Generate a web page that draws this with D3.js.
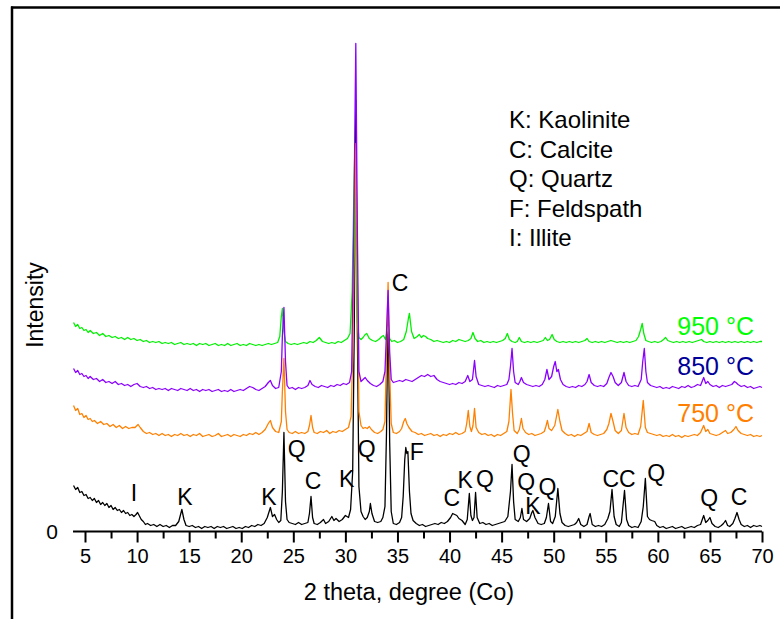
<!DOCTYPE html>
<html><head><meta charset="utf-8">
<script src="https://cdn.jsdelivr.net/npm/d3@7"></script>
<style>
html,body{margin:0;padding:0;background:#fff;}
svg{display:block;font-family:"Liberation Sans",Arial,sans-serif;}
</style></head>
<body>
<svg id="chart" width="780" height="619"></svg>
<script>
// Intensity values as displayed (patterns are stacked with vertical offsets, as in the original figure)
const raw = [[3.9,46],[4.1,42],[4.3,44],[4.5,39],[4.7,40],[4.9,36],[5.1,37],[5.3,33],[5.5,34],[5.7,31],[5.9,33],[6.1,29],[6.3,31],[6.5,27],[6.7,29],[6.9,26],[7.1,28],[7.3,24],[7.5,26],[7.7,22],[7.9,24],[8.1,21],[8.3,22],[8.5,19],[8.7,21],[8.9,18],[9.1,19],[9.3,16],[9.5,17],[9.7,15],[9.9,17],[10.05,19],[10.2,16],[10.4,12],[10.6,10],[10.8,7],[11.0,8],[11.3,6],[11.6,7],[11.9,5],[12.2,7],[12.5,5],[12.8,6],[13.1,4],[13.4,6],[13.7,6],[14.0,10],[14.3,22],[14.5,12],[14.7,6],[15.0,5],[15.3,6],[15.6,4],[15.9,5],[16.2,3],[16.5,5],[16.8,4],[17.1,5],[17.4,3],[17.7,5],[18.0,4],[18.3,5],[18.6,3],[18.9,4],[19.2,5],[19.5,3],[19.8,4],[20.1,3],[20.4,5],[20.7,4],[21.0,6],[21.3,5],[21.6,7],[21.9,6],[22.2,8],[22.5,14],[22.8,24],[23.0,15],[23.2,17],[23.4,12],[23.6,9],[23.8,11],[23.95,40],[24.1,99],[24.25,30],[24.4,12],[24.6,9],[24.9,8],[25.2,7],[25.5,9],[25.8,7],[26.1,8],[26.4,9],[26.55,18],[26.7,35],[26.85,14],[27.0,8],[27.3,7],[27.6,9],[27.9,12],[28.1,8],[28.4,10],[28.7,15],[28.9,11],[29.1,13],[29.4,10],[29.7,12],[30.0,16],[30.3,14],[30.5,22],[30.7,60],[30.85,200],[31.0,431],[31.15,200],[31.3,45],[31.5,20],[31.7,15],[31.9,12],[32.1,14],[32.3,20],[32.4,28],[32.55,18],[32.8,10],[33.1,9],[33.4,10],[33.6,14],[33.8,25],[33.95,100],[34.1,235],[34.25,90],[34.4,20],[34.6,8],[34.9,7],[35.2,9],[35.4,14],[35.55,35],[35.7,72],[35.8,84],[35.9,78],[36.0,80],[36.15,40],[36.3,18],[36.5,11],[36.8,8],[37.1,6],[37.4,7],[37.7,5],[38.0,6],[38.3,7],[38.6,8],[38.9,7],[39.2,9],[39.5,8],[39.8,10],[40.1,14],[40.3,18],[40.5,17],[40.7,16],[40.9,13],[41.2,11],[41.5,7],[41.7,12],[41.9,38],[42.05,16],[42.2,11],[42.35,14],[42.5,39],[42.65,14],[42.9,8],[43.2,9],[43.5,7],[43.8,8],[44.1,6],[44.4,7],[44.7,8],[45.0,9],[45.3,10],[45.6,15],[45.85,40],[46.0,67],[46.15,30],[46.3,12],[46.6,10],[46.8,14],[46.95,23],[47.1,12],[47.4,10],[47.7,13],[47.9,19],[48.0,21],[48.2,14],[48.5,8],[48.8,7],[49.1,8],[49.3,14],[49.5,28],[49.7,10],[49.9,8],[50.15,15],[50.4,43],[50.6,18],[50.8,9],[51.1,6],[51.4,5],[51.7,6],[52.0,7],[52.2,9],[52.4,13],[52.6,7],[52.9,5],[53.2,7],[53.4,15],[53.5,18],[53.7,7],[54.0,5],[54.3,6],[54.6,5],[54.9,7],[55.2,13],[55.4,20],[55.6,42],[55.8,15],[56.0,7],[56.3,5],[56.5,9],[56.8,41],[57.0,12],[57.2,6],[57.5,4],[57.8,5],[58.1,4],[58.4,10],[58.6,25],[58.8,53],[59.0,15],[59.2,12],[59.4,11],[59.7,10],[59.9,6],[60.2,4],[60.5,5],[60.8,3],[61.1,4],[61.4,5],[61.7,3],[62.0,4],[62.3,5],[62.6,3],[62.9,4],[63.2,5],[63.5,4],[63.8,6],[64.1,7],[64.4,16],[64.6,9],[64.8,11],[65.0,14],[65.2,8],[65.5,5],[65.8,4],[66.1,6],[66.3,8],[66.5,11],[66.7,6],[66.9,5],[67.2,8],[67.4,13],[67.6,19],[67.8,12],[68.0,7],[68.3,5],[68.6,6],[68.9,4],[69.2,6],[69.5,5],[69.8,6],[70.0,5]];

const t750 = [[3.9,126],[4.1,121],[4.3,123],[4.5,117],[4.7,118],[4.9,114],[5.1,116],[5.3,112],[5.5,113],[5.7,110],[5.9,111],[6.2,108],[6.5,110],[6.8,107],[7.1,108],[7.4,105],[7.7,107],[8.0,104],[8.3,106],[8.6,103],[8.9,105],[9.2,103],[9.5,104],[9.8,104],[10.1,107],[10.3,104],[10.6,100],[10.9,98],[11.2,99],[11.5,97],[11.8,98],[12.1,96],[12.4,98],[12.7,96],[13.0,97],[13.3,95],[13.6,97],[13.9,96],[14.2,98],[14.5,96],[14.8,97],[15.1,95],[15.4,97],[15.7,96],[16.0,98],[16.3,95],[16.6,96],[16.9,97],[17.2,95],[17.5,96],[17.8,98],[18.1,95],[18.4,96],[18.7,97],[19.0,95],[19.3,97],[19.6,96],[19.9,95],[20.2,97],[20.5,96],[20.8,98],[21.1,97],[21.4,99],[21.7,97],[22.0,99],[22.3,102],[22.6,108],[22.8,111],[23.0,104],[23.3,100],[23.6,99],[23.85,110],[23.95,140],[24.1,173],[24.25,120],[24.4,102],[24.6,99],[24.9,98],[25.2,100],[25.5,98],[25.8,99],[26.1,98],[26.4,100],[26.55,106],[26.7,116],[26.85,104],[27.0,99],[27.3,98],[27.6,100],[27.9,99],[28.2,101],[28.5,98],[28.8,100],[29.1,99],[29.4,101],[29.7,100],[30.0,102],[30.3,104],[30.55,115],[30.75,200],[30.9,330],[31.0,388],[31.15,250],[31.3,120],[31.5,106],[31.7,103],[31.9,104],[32.1,103],[32.3,105],[32.5,102],[32.8,99],[33.1,98],[33.4,100],[33.6,102],[33.8,110],[33.95,180],[34.1,249],[34.25,160],[34.4,108],[34.6,99],[34.9,98],[35.2,100],[35.4,103],[35.6,110],[35.75,113],[35.9,108],[36.1,104],[36.4,100],[36.7,99],[37.0,97],[37.3,98],[37.6,96],[37.9,97],[38.2,98],[38.5,96],[38.8,97],[39.1,95],[39.4,97],[39.7,96],[40.0,98],[40.3,97],[40.6,99],[40.9,97],[41.2,98],[41.5,100],[41.65,108],[41.8,121],[41.95,105],[42.1,100],[42.25,106],[42.4,123],[42.55,104],[42.8,99],[43.1,97],[43.4,98],[43.7,96],[44.0,97],[44.3,95],[44.6,97],[44.9,96],[45.2,98],[45.5,100],[45.7,110],[45.9,142],[46.05,118],[46.2,101],[46.5,98],[46.7,102],[46.9,113],[47.05,103],[47.3,99],[47.6,97],[47.9,98],[48.2,96],[48.5,97],[48.8,98],[49.1,100],[49.25,105],[49.4,111],[49.55,103],[49.8,101],[50.1,106],[50.4,122],[50.6,110],[50.8,101],[51.1,98],[51.4,96],[51.7,97],[52.0,95],[52.3,97],[52.6,96],[52.9,98],[53.2,100],[53.4,108],[53.6,99],[53.9,97],[54.2,96],[54.5,97],[54.8,98],[55.1,102],[55.3,108],[55.5,118],[55.7,110],[55.9,101],[56.2,98],[56.5,101],[56.75,118],[56.95,104],[57.2,99],[57.5,97],[57.8,98],[58.1,97],[58.35,105],[58.6,131],[58.8,104],[59.0,99],[59.3,98],[59.6,97],[59.9,96],[60.2,97],[60.5,95],[60.8,96],[61.1,95],[61.4,97],[61.7,95],[62.0,96],[62.3,94],[62.6,96],[62.9,95],[63.2,96],[63.5,97],[63.8,96],[64.1,99],[64.4,106],[64.6,100],[64.8,102],[65.0,98],[65.3,97],[65.6,96],[65.9,97],[66.2,99],[66.5,101],[66.7,98],[67.0,99],[67.3,102],[67.5,105],[67.7,101],[68.0,98],[68.3,97],[68.6,96],[68.9,97],[69.2,95],[69.5,96],[69.8,95],[70.0,96]];

const t850 = [[3.9,163],[4.1,159],[4.3,161],[4.5,157],[4.7,158],[4.9,155],[5.1,156],[5.3,153],[5.5,155],[5.8,152],[6.1,153],[6.4,150],[6.7,152],[7.0,149],[7.3,150],[7.6,148],[7.9,150],[8.2,147],[8.5,148],[8.8,146],[9.1,147],[9.4,145],[9.7,147],[10.0,148],[10.3,145],[10.6,144],[10.9,145],[11.2,143],[11.5,144],[11.8,142],[12.1,143],[12.4,142],[12.7,143],[13.0,141],[13.3,143],[13.6,142],[13.9,141],[14.2,143],[14.5,142],[14.8,141],[15.1,143],[15.4,141],[15.7,142],[16.0,140],[16.3,142],[16.6,141],[16.9,142],[17.2,140],[17.5,141],[17.8,142],[18.1,140],[18.4,141],[18.7,140],[19.0,142],[19.3,140],[19.6,141],[19.9,142],[20.2,141],[20.5,143],[20.8,145],[21.1,144],[21.4,142],[21.7,141],[22.0,143],[22.3,145],[22.6,149],[22.8,151],[23.0,146],[23.3,143],[23.6,144],[23.85,160],[23.95,195],[24.1,224],[24.25,170],[24.4,146],[24.6,143],[24.9,144],[25.2,142],[25.5,144],[25.8,143],[26.1,144],[26.4,146],[26.6,151],[26.8,147],[27.1,145],[27.4,144],[27.7,146],[28.0,145],[28.3,144],[28.6,146],[28.9,145],[29.2,147],[29.5,146],[29.8,148],[30.1,147],[30.4,149],[30.6,160],[30.8,300],[31.0,488],[31.15,300],[31.3,160],[31.5,150],[31.7,152],[31.9,154],[32.1,151],[32.4,148],[32.7,146],[33.0,145],[33.3,147],[33.6,150],[33.8,160],[33.95,200],[34.1,241],[34.25,180],[34.4,152],[34.6,149],[34.9,150],[35.2,151],[35.5,150],[35.8,152],[36.1,151],[36.4,150],[36.7,152],[37.0,154],[37.3,156],[37.6,155],[37.9,157],[38.2,155],[38.5,156],[38.8,152],[39.1,150],[39.4,149],[39.7,148],[40.0,147],[40.3,148],[40.6,147],[40.9,149],[41.2,148],[41.5,150],[41.75,156],[41.95,150],[42.2,152],[42.4,171],[42.55,155],[42.8,147],[43.1,146],[43.4,145],[43.7,146],[44.0,145],[44.3,144],[44.6,146],[44.9,145],[45.2,146],[45.5,147],[45.7,152],[45.85,165],[46.0,183],[46.15,160],[46.3,149],[46.6,147],[46.75,150],[46.9,154],[47.1,149],[47.4,147],[47.7,146],[48.0,145],[48.3,146],[48.6,145],[48.9,147],[49.15,152],[49.35,162],[49.55,152],[49.8,155],[50.0,165],[50.15,170],[50.3,160],[50.45,162],[50.65,152],[50.9,147],[51.2,145],[51.5,144],[51.8,145],[52.1,144],[52.4,146],[52.7,145],[53.0,147],[53.2,150],[53.4,157],[53.6,149],[53.9,146],[54.2,145],[54.5,146],[54.8,145],[55.1,148],[55.3,154],[55.5,159],[55.7,155],[55.9,149],[56.2,146],[56.5,149],[56.75,159],[56.95,150],[57.2,146],[57.5,145],[57.8,146],[58.1,145],[58.4,152],[58.55,170],[58.7,183],[58.85,160],[59.0,149],[59.3,146],[59.6,145],[59.9,144],[60.2,145],[60.5,143],[60.8,144],[61.1,143],[61.4,145],[61.7,144],[62.0,143],[62.3,145],[62.6,144],[62.9,146],[63.2,144],[63.5,145],[63.8,147],[64.1,146],[64.4,154],[64.6,148],[64.8,150],[65.0,147],[65.3,145],[65.6,146],[65.9,144],[66.2,146],[66.5,145],[66.8,146],[67.1,147],[67.35,150],[67.5,149],[67.7,147],[68.0,145],[68.3,146],[68.6,144],[68.9,145],[69.2,143],[69.5,144],[69.8,145],[70.0,144]];

const t950 = [[3.9,209],[4.1,205],[4.3,207],[4.5,203],[4.7,204],[4.9,201],[5.1,202],[5.3,199],[5.5,201],[5.8,198],[6.1,199],[6.4,196],[6.7,198],[7.0,195],[7.3,196],[7.6,194],[7.9,195],[8.2,193],[8.5,194],[8.8,192],[9.1,194],[9.4,192],[9.7,193],[10.0,191],[10.3,192],[10.6,190],[10.9,191],[11.2,189],[11.5,190],[11.8,189],[12.1,190],[12.4,188],[12.7,189],[13.0,188],[13.3,189],[13.6,187],[13.9,188],[14.2,189],[14.5,187],[14.8,188],[15.1,187],[15.4,188],[15.7,186],[16.0,188],[16.3,187],[16.6,188],[16.9,186],[17.2,187],[17.5,188],[17.8,186],[18.1,187],[18.4,186],[18.7,188],[19.0,186],[19.3,187],[19.6,188],[19.9,186],[20.2,187],[20.5,186],[20.8,188],[21.1,187],[21.4,186],[21.7,187],[22.0,186],[22.3,187],[22.6,188],[22.9,187],[23.2,188],[23.5,189],[23.7,195],[23.85,215],[23.95,223],[24.1,200],[24.25,190],[24.5,188],[24.8,187],[25.1,188],[25.4,187],[25.7,188],[26.0,189],[26.3,188],[26.6,190],[26.9,189],[27.2,191],[27.5,194],[27.8,190],[28.1,189],[28.4,188],[28.7,189],[29.0,188],[29.3,190],[29.6,189],[29.9,191],[30.2,193],[30.45,198],[30.65,240],[30.8,330],[30.9,378],[31.0,300],[31.15,210],[31.3,194],[31.5,192],[31.7,194],[31.9,197],[32.05,198],[32.3,193],[32.6,191],[32.9,190],[33.2,192],[33.5,195],[33.65,196],[33.85,192],[34.0,200],[34.1,205],[34.25,193],[34.45,190],[34.7,191],[35.0,189],[35.3,190],[35.6,192],[35.85,200],[36.05,213],[36.15,218],[36.35,200],[36.6,193],[36.9,195],[37.1,197],[37.3,194],[37.5,196],[37.7,195],[37.9,193],[38.2,192],[38.5,190],[38.8,191],[39.1,190],[39.4,189],[39.7,190],[40.0,189],[40.3,191],[40.6,190],[40.9,192],[41.2,191],[41.5,190],[41.8,191],[42.05,193],[42.25,199],[42.45,193],[42.7,190],[43.0,191],[43.3,189],[43.6,190],[43.9,189],[44.2,190],[44.5,189],[44.8,190],[45.1,191],[45.35,193],[45.55,198],[45.75,192],[46.0,190],[46.3,189],[46.5,190],[46.7,194],[46.9,190],[47.2,189],[47.5,190],[47.8,189],[48.1,190],[48.4,189],[48.7,190],[49.0,191],[49.2,194],[49.4,191],[49.6,192],[49.85,197],[50.05,192],[50.3,190],[50.6,189],[50.9,190],[51.2,189],[51.5,190],[51.8,189],[52.1,190],[52.4,189],[52.7,190],[53.0,191],[53.2,193],[53.4,190],[53.7,189],[54.0,190],[54.3,189],[54.6,190],[54.9,189],[55.2,190],[55.5,191],[55.8,190],[56.1,189],[56.4,190],[56.7,189],[57.0,190],[57.3,189],[57.6,190],[57.9,191],[58.15,195],[58.35,202],[58.5,208],[58.65,198],[58.85,191],[59.1,190],[59.4,189],[59.7,190],[60.0,189],[60.3,190],[60.55,192],[60.75,194],[60.95,191],[61.2,190],[61.5,189],[61.8,190],[62.1,189],[62.4,190],[62.7,189],[63.0,190],[63.3,189],[63.6,190],[63.9,191],[64.2,192],[64.4,190],[64.7,189],[65.0,190],[65.3,189],[65.6,190],[65.9,189],[66.2,190],[66.5,189],[66.8,190],[67.1,189],[67.4,190],[67.7,189],[68.0,190],[68.3,189],[68.6,190],[68.9,189],[69.2,190],[69.5,189],[69.8,190],[70.0,190]];

// Phase labels on the raw pattern: [letter, 2theta, intensity]
const peakLabels = [["I",9.70,38.5],["K",14.6,34.5],["K",22.67,34.5],["Q",25.33,82.5],["C",26.9,50.5],["K",30.13,52.5],["Q",32.05,82.5],["F",36.85,79.5],["C",35.25,248.5],["C",40.21,33.5],["K",41.49,51.5],["Q",43.41,52.5],["Q",46.93,77.5],["Q",47.35,49.5],["K",48.0,25.5],["Q",49.4,45],["C",55.48,52.5],["C",57.07,52.5],["Q",59.83,58.5],["Q",64.94,33.5],["C",67.79,34.5]];

const legendLines = ["K: Kaolinite","C: Calcite","Q: Quartz","F: Feldspath","I: Illite"];
const seriesNames = ["950 °C","850 °C","750 °C"];
const xTicks = [5,10,15,20,25,30,35,40,45,50,55,60,65,70];
const xMinorTicks = [7.5,12.5,17.5,22.5,27.5,32.5,37.5,42.5,47.5,52.5,57.5,62.5,67.5];
const yTicks = [0];

const svg = d3.select("#chart");
const x = d3.scaleLinear().domain([5,70]).range([85,762]);
const y = d3.scaleLinear().domain([0,500]).range([531.5,31.5]);

// frame
svg.append("line").attr("x1",11).attr("x2",780).attr("y1",7.5).attr("y2",7.5).attr("stroke","#000").attr("stroke-width",2.5);
svg.append("line").attr("x1",12).attr("x2",12).attr("y1",6.5).attr("y2",619).attr("stroke","#000").attr("stroke-width",2.5);

const line = d3.line().x(d=>x(d[0])).y(d=>y(d[1]));
const series = [
  {data: raw, color:"#000000"},
  {data: t950, color:"#00f000"},
  {data: t750, color:"#ff8000"},
  {data: t850, color:"#8a00ff"}
];
series.forEach(s=>{
  svg.append("path").datum(s.data).attr("d",line).attr("fill","none")
    .attr("stroke",s.color).attr("stroke-width",1.3).attr("stroke-linejoin","round");
});

// x axis
const axisG = svg.append("g").attr("transform","translate(0,531.5)");
axisG.append("line").attr("x1",x(3.85)).attr("x2",x(70)).attr("stroke","#000").attr("stroke-width",2);
const xa = d3.axisBottom(x).tickValues(xTicks).tickSize(11).tickSizeOuter(0).tickPadding(6);
const g1 = axisG.append("g").call(xa);
g1.select(".domain").remove();
g1.selectAll(".tick line").attr("stroke","#000").attr("stroke-width",2);
g1.selectAll(".tick text").attr("font-size",20).attr("fill","#000").attr("font-family","Liberation Sans, Arial, sans-serif");
const xm = d3.axisBottom(x).tickValues(xMinorTicks).tickSize(7).tickFormat("");
const g2 = axisG.append("g").call(xm);
g2.select(".domain").remove();
g2.selectAll(".tick line").attr("stroke","#000").attr("stroke-width",2);

// y tick label "0"
svg.selectAll(".ylab").data(yTicks).enter().append("text")
  .attr("x",52).attr("y",d=>y(d)).attr("dy","0.35em").attr("text-anchor","middle")
  .attr("font-size",21).text(d=>d);

// axis titles
svg.append("text").attr("x",409).attr("y",600).attr("text-anchor","middle").attr("font-size",23.5).text("2 theta, degree (Co)");
svg.append("text").attr("transform","translate(43,305) rotate(-90)").attr("text-anchor","middle").attr("font-size",23).text("Intensity");

// peak labels
svg.selectAll(".pl").data(peakLabels).enter().append("text")
  .attr("x",d=>x(d[1])).attr("y",d=>y(d[2])).attr("dy","0.36em").attr("text-anchor","middle")
  .attr("font-size",23).attr("fill","#000").text(d=>d[0]);

// legend text
svg.selectAll(".lg").data(legendLines).enter().append("text")
  .attr("x",509).attr("y",(d,i)=>128+i*29.5).attr("font-size",24).attr("fill","#000").text(d=>d);

// series labels
const labelColors = ["#00ff00","#000099","#ff8000"];
const labelY = [335,375,421.5];
svg.selectAll(".sl").data(seriesNames).enter().append("text")
  .attr("x",754).attr("y",(d,i)=>labelY[i]).attr("text-anchor","end").attr("font-size",25)
  .attr("fill",(d,i)=>labelColors[i]).text(d=>d);
</script>
</body></html>
